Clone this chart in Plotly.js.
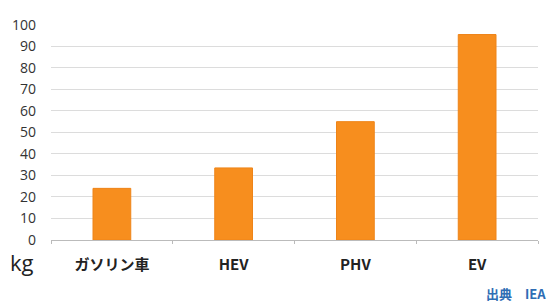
<!DOCTYPE html>
<html><head><meta charset="utf-8">
<script src="https://cdn.plot.ly/plotly-3.0.1.min.js"></script>
<style>html,body{margin:0;padding:0;background:#fff;}#chart{width:551px;height:302px;}</style>
</head><body><div id="chart"></div>
<script>
var categories = ["ガソリン車", "HEV", "PHV", "EV"];
var values = [24, 33.5, 55, 95.5];
var yTicks = [0,10,20,30,40,50,60,70,80,90,100];

var W = 551, H = 302, L = 51, R = 13, T = 24, B = 62;
var pw = W - L - R, ph = H - T - B;

Plotly.newPlot('chart', [{
  type: 'bar', x: categories, y: values,
  width: 0.31,
  marker: {color: '#F78E1E', line: {color: '#EE8418', width: 1}},
  hoverinfo: 'none'
}], {
  width: W, height: H,
  margin: {l: L, r: R, t: T, b: B, pad: 0},
  paper_bgcolor: '#fff', plot_bgcolor: '#fff',
  showlegend: false,
  font: {family: 'Open Sans, Liberation Sans, sans-serif', color: '#333'},
  xaxis: {
    type: 'category', tickson: 'boundaries', ticks: 'outside', ticklen: 3, tickcolor: '#bbb',
    showline: true, linecolor: '#bbb', linewidth: 1, showgrid: false,
    tickfont: {family: 'Noto Sans CJK JP, Open Sans, sans-serif', size: 15, color: '#222', weight: 'bold'},
    ticklabelstandoff: 11
  },
  yaxis: {
    range: [0, 100.4], tickvals: yTicks, ticktext: yTicks.map(String),
    showgrid: true, gridcolor: '#dcdcdc', gridwidth: 1, zeroline: false,
    showline: false, ticks: '', ticklabelstandoff: 14,
    tickfont: {family: 'Open Sans, Liberation Sans, sans-serif', size: 14, color: '#333'}
  },
  annotations: [
    {text: 'kg', xref: 'paper', yref: 'paper', x: (8 - L) / pw, y: (H - B - 262) / ph, xanchor: 'left', yanchor: 'middle', showarrow: false, font: {size: 22, color: '#222', family: 'Open Sans, sans-serif'}},
    {text: '出典　IEA', xref: 'paper', yref: 'paper', x: (548 - L) / pw, y: (H - B - 293) / ph, xanchor: 'right', yanchor: 'middle', showarrow: false, font: {size: 13, color: '#2e6db4', family: 'Noto Sans CJK JP, sans-serif', weight: 'bold'}}
  ]
}, {staticPlot: true});
</script></body></html>
